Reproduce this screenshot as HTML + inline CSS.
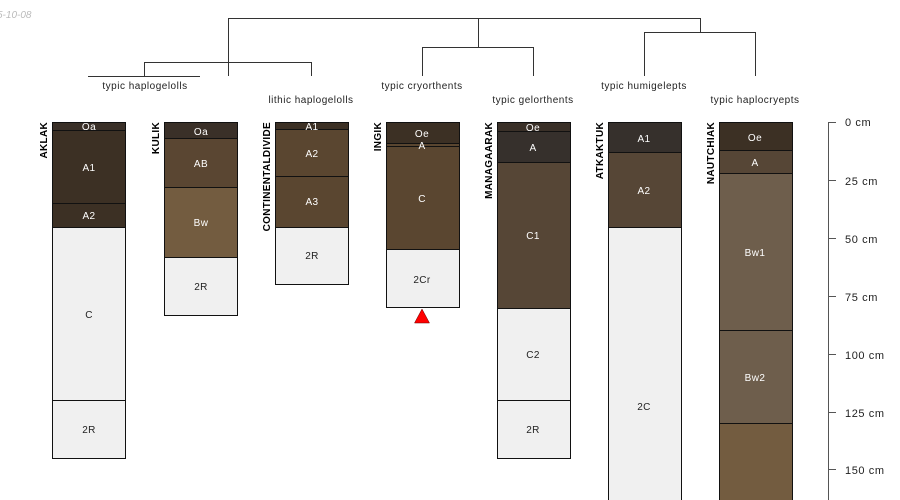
<!DOCTYPE html>
<html><head><meta charset="utf-8"><style>
body{margin:0;background:#fff}
svg{display:block;font-family:"Liberation Sans",sans-serif}
.t{font-size:10px;fill:#222;text-anchor:middle;letter-spacing:0.5px}
.h{font-size:10px;fill:#fff;text-anchor:middle;letter-spacing:0.4px}
.d{font-size:10px;fill:#222;text-anchor:middle;letter-spacing:0.4px}
.n{font-size:10px;font-weight:bold;fill:#000;text-anchor:end;letter-spacing:0.3px}
.s{font-size:11px;fill:#222;letter-spacing:0.6px}
</style></head><body>
<svg width="900" height="500" viewBox="0 0 900 500">
<text x="-3" y="18" font-size="10" font-style="italic" fill="#bbb">5-10-08</text>
<g stroke="#333" fill="none" stroke-width="1">
<path d="M228.5 76V18.5H700.5V32"/>
<path d="M144.5 76V62.5H311.5V76"/>
<path d="M88 76.5H200"/>
<path d="M422.5 76V47.5H533.5V76M478.5 18V47"/>
<path d="M644.5 76V32.5H755.5V76"/>
</g>
<text class="t" x="145" y="89">typic haplogelolls</text>
<text class="t" x="311" y="103">lithic haplogelolls</text>
<text class="t" x="422" y="89">typic cryorthents</text>
<text class="t" x="533" y="103">typic gelorthents</text>
<text class="t" x="644" y="89">typic humigelepts</text>
<text class="t" x="755" y="103">typic haplocryepts</text>
<g stroke="#111" stroke-width="1">
<rect x="52.5" y="122.5" width="73" height="8" fill="#3a3028"/>
<rect x="52.5" y="130.5" width="73" height="73" fill="#3c3024"/>
<rect x="52.5" y="203.5" width="73" height="24" fill="#3c3024"/>
<rect x="52.5" y="227.5" width="73" height="173" fill="#f0f0f0"/>
<rect x="52.5" y="400.5" width="73" height="58" fill="#f0f0f0"/>
<rect x="164.5" y="122.5" width="73" height="16" fill="#3a3028"/>
<rect x="164.5" y="138.5" width="73" height="49" fill="#5a4632"/>
<rect x="164.5" y="187.5" width="73" height="70" fill="#735c40"/>
<rect x="164.5" y="257.5" width="73" height="58" fill="#f0f0f0"/>
<rect x="275.5" y="122.5" width="73" height="7" fill="#3c3024"/>
<rect x="275.5" y="129.5" width="73" height="47" fill="#5a4630"/>
<rect x="275.5" y="176.5" width="73" height="51" fill="#5a4630"/>
<rect x="275.5" y="227.5" width="73" height="57" fill="#f0f0f0"/>
<rect x="386.5" y="122.5" width="73" height="21" fill="#3c3024"/>
<rect x="386.5" y="143.5" width="73" height="3" fill="#5a4630"/>
<rect x="386.5" y="146.5" width="73" height="103" fill="#5a4630"/>
<rect x="386.5" y="249.5" width="73" height="58" fill="#f0f0f0"/>
<rect x="497.5" y="122.5" width="73" height="9" fill="#3a3028"/>
<rect x="497.5" y="131.5" width="73" height="31" fill="#36302c"/>
<rect x="497.5" y="162.5" width="73" height="146" fill="#564636"/>
<rect x="497.5" y="308.5" width="73" height="92" fill="#f0f0f0"/>
<rect x="497.5" y="400.5" width="73" height="58" fill="#f0f0f0"/>
<rect x="608.5" y="122.5" width="73" height="30" fill="#36302c"/>
<rect x="608.5" y="152.5" width="73" height="75" fill="#564636"/>
<rect x="608.5" y="227.5" width="73" height="280" fill="#f0f0f0"/>
<rect x="719.5" y="122.5" width="73" height="28" fill="#3c3024"/>
<rect x="719.5" y="150.5" width="73" height="23" fill="#564636"/>
<rect x="719.5" y="173.5" width="73" height="157" fill="#6e5e4c"/>
<rect x="719.5" y="330.5" width="73" height="93" fill="#6e5e4c"/>
<rect x="719.5" y="423.5" width="73" height="90" fill="#735c40"/>
</g>
<polygon points="422,309 414.5,323 429.5,323" fill="#f00" stroke="#600" stroke-width="0.5"/>
<text class="h" x="89" y="130">Oa</text><text class="h" x="89" y="171">A1</text><text class="h" x="89" y="219">A2</text>
<text class="h" x="201" y="135">Oa</text><text class="h" x="201" y="167">AB</text><text class="h" x="201" y="226">Bw</text>
<text class="h" x="312" y="130">A1</text><text class="h" x="312" y="157">A2</text><text class="h" x="312" y="205">A3</text>
<text class="h" x="422" y="137">Oe</text><text class="h" x="422" y="149">A</text><text class="h" x="422" y="202">C</text>
<text class="h" x="533" y="131">Oe</text><text class="h" x="533" y="151">A</text><text class="h" x="533" y="239">C1</text>
<text class="h" x="644" y="142">A1</text><text class="h" x="644" y="194">A2</text>
<text class="h" x="755" y="141">Oe</text><text class="h" x="755" y="166">A</text><text class="h" x="755" y="256">Bw1</text><text class="h" x="755" y="381">Bw2</text>
<text class="d" x="89" y="318">C</text><text class="d" x="89" y="433">2R</text>
<text class="d" x="201" y="290">2R</text><text class="d" x="312" y="259">2R</text>
<text class="d" x="422" y="283">2Cr</text>
<text class="d" x="533" y="358">C2</text><text class="d" x="533" y="433">2R</text>
<text class="d" x="644" y="410">2C</text>
<text class="n" transform="translate(47,122) rotate(-90)">AKLAK</text>
<text class="n" transform="translate(159,122) rotate(-90)">KULIK</text>
<text class="n" transform="translate(270,122) rotate(-90)">CONTINENTALDIVIDE</text>
<text class="n" transform="translate(381,122) rotate(-90)">INGIK</text>
<text class="n" transform="translate(492,122) rotate(-90)">MANAGAARAK</text>
<text class="n" transform="translate(603,122) rotate(-90)">ATKAKTUK</text>
<text class="n" transform="translate(714,122) rotate(-90)">NAUTCHIAK</text>
<g stroke="#555" stroke-width="1">
<path d="M828.5 122V500"/>
<path d="M828 122.5H836M828 180.5H836M828 238.5H836M828 296.5H836M828 354.5H836M828 412.5H836M828 469.5H836"/>
</g>
<g class="s">
<text x="845" y="126">0 cm</text><text x="845" y="185">25 cm</text><text x="845" y="243">50 cm</text>
<text x="845" y="301">75 cm</text><text x="845" y="359">100 cm</text><text x="845" y="417">125 cm</text><text x="845" y="474">150 cm</text>
</g>
</svg>
</body></html>
